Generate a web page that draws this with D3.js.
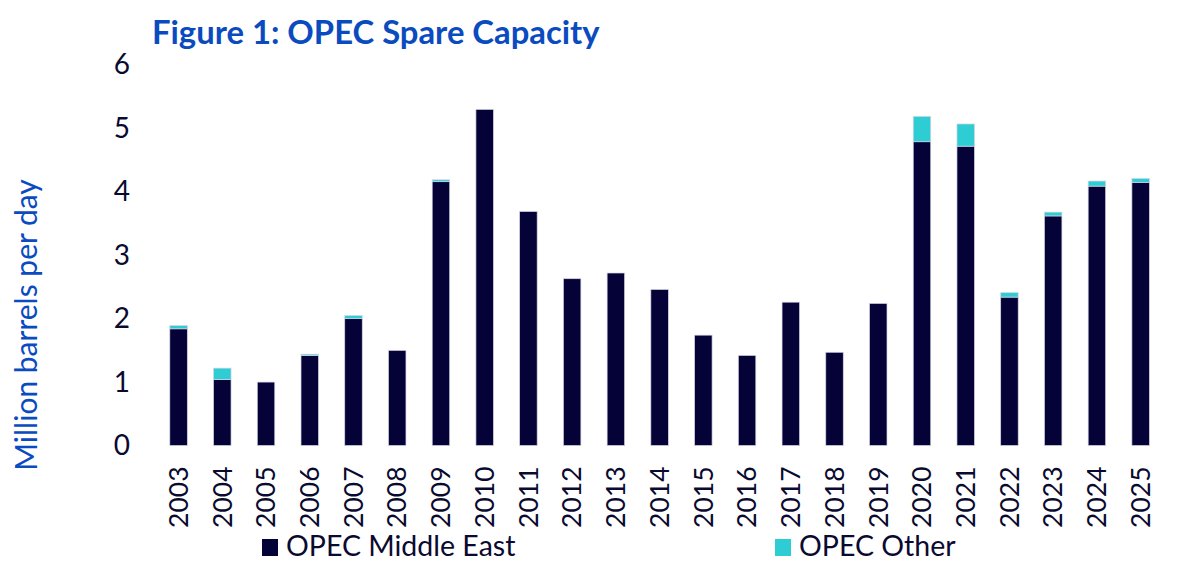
<!DOCTYPE html>
<html>
<head>
<meta charset="utf-8">
<script src="https://cdn.jsdelivr.net/npm/d3@7"></script>
<style>
  body { margin: 0; background: #fff; }
  svg { display: block; font-family: Lato, "Open Sans", sans-serif; }
</style>
</head>
<body>
<svg id="chart" width="1200" height="566"></svg>
<script>
const width = 1200;
const height = 566;

// data (million barrels per day)
const years = ['2003', '2004', '2005', '2006', '2007', '2008', '2009', '2010', '2011', '2012', '2013', '2014',
               '2015', '2016', '2017', '2018', '2019', '2020', '2021', '2022', '2023', '2024', '2025'];
const middleEast = [1.84, 1.04, 1.00, 1.42, 2.00, 1.50, 4.16, 5.30, 3.69, 2.63, 2.72, 2.46,
                    1.74, 1.42, 2.26, 1.47, 2.24, 4.79, 4.72, 2.34, 3.62, 4.09, 4.15];
const other = [0.05, 0.18, 0.00, 0.02, 0.05, 0.00, 0.03, 0.00, 0.00, 0.00, 0.00, 0.00,
               0.00, 0.00, 0.00, 0.00, 0.00, 0.40, 0.35, 0.07, 0.06, 0.08, 0.06];
const yTicks = [0, 1, 2, 3, 4, 5, 6];
const seriesNames = ['OPEC Middle East', 'OPEC Other'];
const seriesColors = ['#050238', '#2ecdd4'];

const rows = years.map(function(y, i) {
    return { year: y, me: middleEast[i], other: other[i] };
});

const svg = d3.select('#chart');

const x = d3.scaleBand()
            .domain(years)
            .range([156.7, 1162.5])
            .paddingInner(0.6)
            .paddingOuter(0.3);

const y = d3.scaleLinear()
            .domain([0, 6])
            .range([445.5, 65]);

const stack = d3.stack().keys(['me', 'other'])(rows);

// Title
svg.append('text')
   .attr('x', 152)
   .attr('y', 44)
   .attr('font-size', 32.8)
   .attr('font-weight', 'bold')
   .attr('fill', '#0a4bc0')
   .text('Figure 1: OPEC Spare Capacity');

// Y axis label
svg.append('text')
   .attr('transform', 'translate(37,325) rotate(-90)')
   .attr('text-anchor', 'middle')
   .attr('font-size', 30)
   .attr('fill', '#0a4bc0')
   .text('Million barrels per day');

// Y axis (labels only)
const yAxis = svg.append('g')
                 .attr('transform', 'translate(130,0)')
                 .call(d3.axisLeft(y).tickValues(yTicks).tickSize(0).tickPadding(0).tickFormat(d3.format('d')));
yAxis.select('.domain').remove();
yAxis.selectAll('text')
     .attr('font-size', 28)
     .attr('font-family', 'Lato, sans-serif')
     .attr('fill', '#0a0a30');

// Bars
svg.append('g')
   .selectAll('g')
   .data(stack)
   .join('g')
   .attr('fill', function(d, i) { return seriesColors[i]; })
   .selectAll('rect')
   .data(function(d) { return d.filter(function(p) { return p[1] - p[0] > 0; }); })
   .join('rect')
   .attr('x', function(d) { return x(d.data.year); })
   .attr('y', function(d) { return y(d[1]); })
   .attr('width', x.bandwidth())
   .attr('height', function(d) { return y(d[0]) - y(d[1]); })
   .attr('stroke', '#d4d4e4')
   .attr('stroke-width', 0.7);

// X axis (rotated year labels)
const xAxis = svg.append('g')
                 .attr('transform', 'translate(0,445.5)')
                 .call(d3.axisBottom(x).tickSize(0).tickPadding(0));
xAxis.select('.domain').remove();
xAxis.selectAll('text')
     .attr('font-size', 26.5)
     .attr('font-family', 'Lato, sans-serif')
     .attr('fill', '#0a0a30')
     .attr('text-anchor', 'end')
     .attr('dy', '0.35em')
     .attr('transform', 'translate(0,21) rotate(-90)')
     .attr('x', 0)
     .attr('y', 0);

// Legend
const legendX = [262, 775];
const legend = svg.append('g')
                  .selectAll('g')
                  .data(seriesNames)
                  .join('g')
                  .attr('transform', function(d, i) { return 'translate(' + legendX[i] + ',539)'; });
legend.append('rect')
      .attr('width', 16)
      .attr('height', 17)
      .attr('fill', function(d, i) { return seriesColors[i]; });
legend.append('text')
      .attr('x', 24)
      .attr('y', 17)
      .attr('font-size', 28.5)
      .attr('fill', '#0a0a30')
      .text(function(d) { return d; });
</script>
</body>
</html>
